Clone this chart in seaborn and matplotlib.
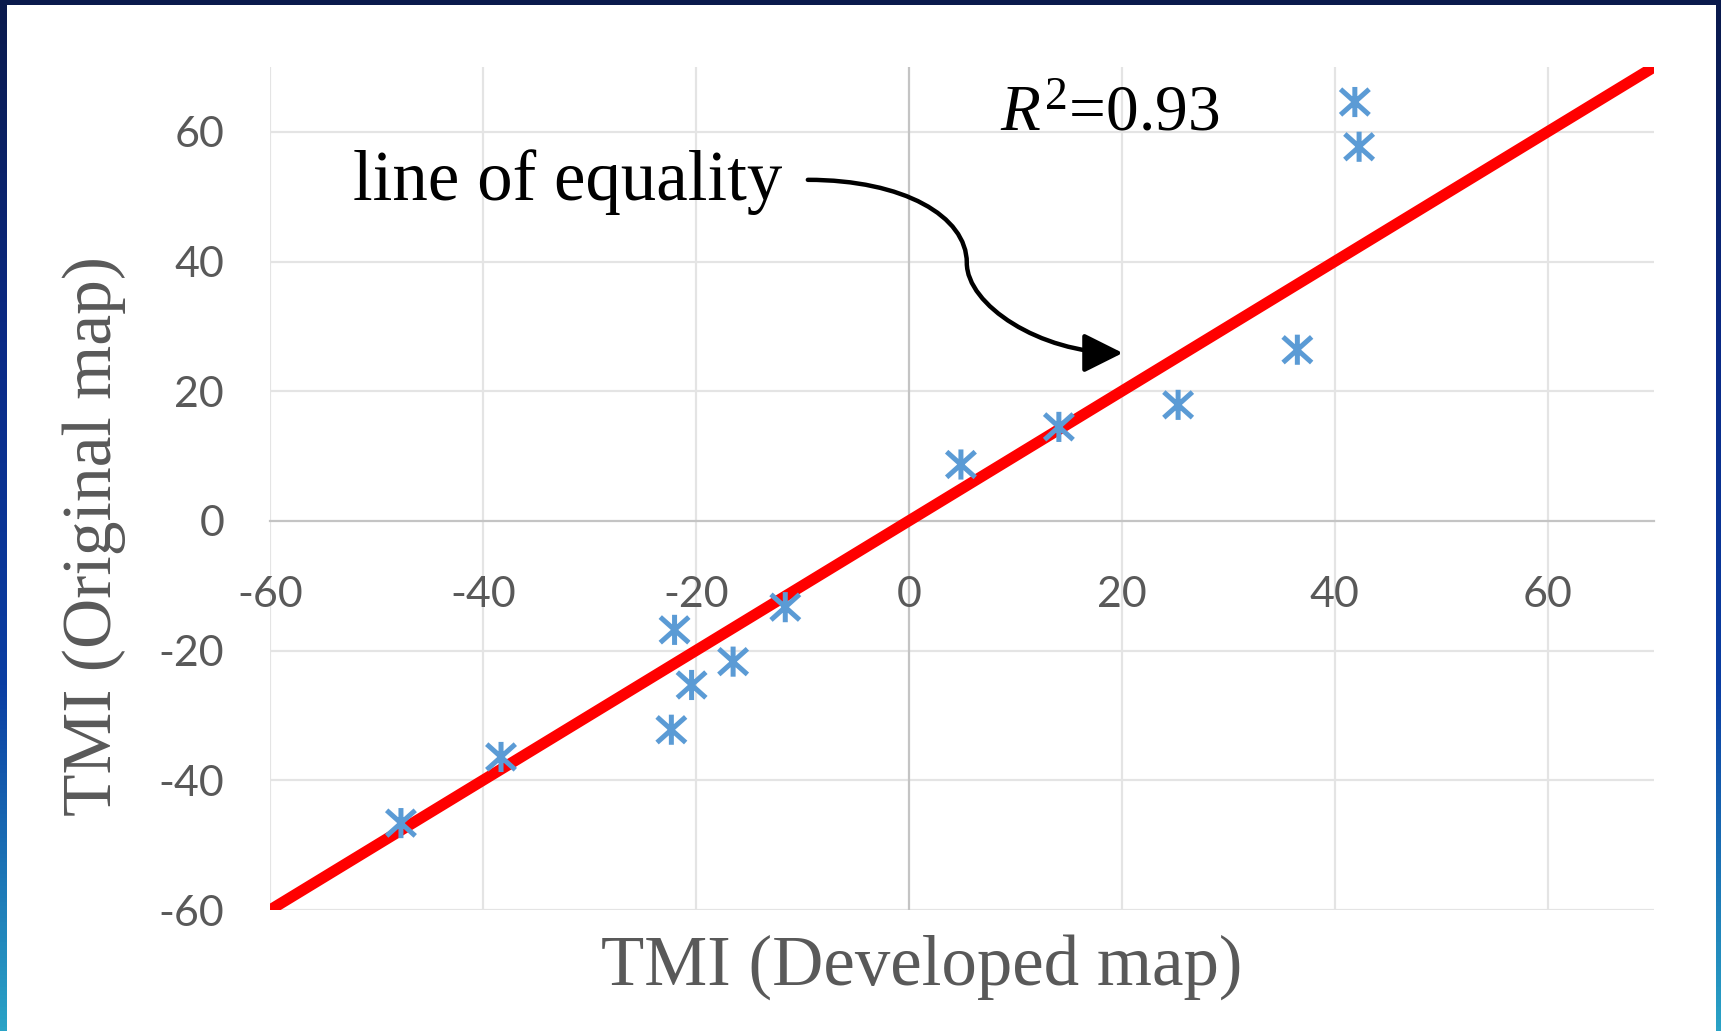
import numpy as np
import pandas as pd
import matplotlib
matplotlib.use("Agg")
import matplotlib.pyplot as plt
import seaborn as sns
from matplotlib.path import Path
from matplotlib.patches import FancyArrowPatch, Rectangle
from matplotlib.colors import LinearSegmentedColormap

# ---- data ----
developed = [-47.7, -38.3, -22.0, -22.3, -20.4, -16.5, -11.6, 4.9, 14.1, 25.3, 36.5, 41.9, 42.3]
original = [-46.6, -36.4, -16.8, -32.2, -25.3, -21.7, -13.3, 8.7, 14.5, 17.9, 26.4, 64.6, 57.7]
equality = [-60, 70]
ticks = [-60, -40, -20, 0, 20, 40, 60]
r2_text = r"$R^{2}$=0.93"
note_text = "line of equality"
xlabel = "TMI (Developed map)"
ylabel = "TMI (Original map)"

sns.set_theme(style="white")
plt.rcParams["font.family"] = ["Liberation Serif", "DejaVu Serif"]
plt.rcParams["mathtext.fontset"] = "custom"
plt.rcParams["mathtext.rm"] = "Liberation Serif"
plt.rcParams["mathtext.it"] = "Liberation Serif:italic"

W, H = 1721, 1031
fig = plt.figure(figsize=(W / 100, H / 100), dpi=100)
fig.patch.set_facecolor("white")

# slide frame background
bg = fig.add_axes([0, 0, 1, 1], zorder=-5)
cmap = LinearSegmentedColormap.from_list("frame", ["#0a1a4c", "#0a2a86", "#0b3ea3", "#2aa3c6"])
grad = np.linspace(0, 1, 256).reshape(-1, 1)
bg.imshow(grad, aspect="auto", cmap=cmap, extent=[0, 1, 0, 1], origin="upper")
bg.add_patch(Rectangle((7 / W, 0), (1716 - 7) / W, (H - 5) / H, transform=bg.transAxes,
                       facecolor="white", edgecolor="none"))
bg.set_xlim(0, 1); bg.set_ylim(0, 1)
bg.axis("off")

# main axes
left, right = 270, 1654
top, bottom = 67, 910
ax = fig.add_axes([left / W, (H - bottom) / H, (right - left) / W, (bottom - top) / H], zorder=2)
ax.set_facecolor("none")

grid_c = "#e4e4e4"
for t in ticks:
    if t != 0:
        ax.axhline(t, color=grid_c, lw=1.6, zorder=0)
        ax.axvline(t, color=grid_c, lw=1.6, zorder=0)
ax.axvline(0, color="#c4c4c4", lw=1.6, zorder=0.5)

# Excel-style asterisk marker: X plus vertical bar
star = Path([(0, -1), (0, 1), (-0.95, -0.85), (0.95, 0.85), (-0.95, 0.85), (0.95, -0.85)],
            [Path.MOVETO, Path.LINETO, Path.MOVETO, Path.LINETO, Path.MOVETO, Path.LINETO])

sns.lineplot(x=equality, y=equality, ax=ax, color="#ff0000", lw=8,
             solid_capstyle="round", zorder=3)
sns.scatterplot(x=developed, y=original, ax=ax, marker=star, s=470,
                facecolor="none", edgecolor="#5b9bd5", linewidth=3.6, zorder=4)

ax.set_xlim(-60, 70)
ax.set_ylim(-60, 70)
ax.set_xticks(ticks)
ax.set_yticks(ticks)
ax.set_xticklabels([str(t) for t in ticks])
ax.set_yticklabels([str(t) for t in ticks])
for s in ["top", "right", "left"]:
    ax.spines[s].set_visible(False)
ax.spines["bottom"].set_position(("data", 0))
ax.spines["bottom"].set_color("#c4c4c4")
ax.spines["bottom"].set_linewidth(1.6)
ax.tick_params(axis="x", length=0, pad=40, labelsize=31, labelcolor="#595959")
ax.tick_params(axis="y", length=0, pad=33, labelsize=31, labelcolor="#595959")
for lab in ax.get_xticklabels() + ax.get_yticklabels():
    lab.set_fontfamily(["Lato", "DejaVu Sans"])

ax.set_xlabel(xlabel, fontsize=51, color="#595959")
ax.set_ylabel(ylabel, fontsize=50, color="#595959")
ax.xaxis.set_label_coords((922 - left) / (right - left), (bottom - 985) / (bottom - top))
ax.xaxis.label.set_va("baseline")
ax.yaxis.set_label_coords((94 - left) / (right - left), (bottom - 536) / (bottom - top))
ax.yaxis.label.set_va("center")

ax.text(8.6, 60.3, r2_text, fontsize=47, color="black", ha="left", va="baseline")
ax.text(-52.2, 49.5, note_text, fontsize=51, color="black", ha="left", va="baseline")

verts = [(-9.48, 52.6), (-0.5, 52.6), (5.45, 47.0), (5.45, 39.8),
         (5.45, 33.3), (12.3, 25.9), (20.1, 25.9)]
codes = [Path.MOVETO, Path.CURVE4, Path.CURVE4, Path.CURVE4,
         Path.CURVE4, Path.CURVE4, Path.CURVE4]
arrow = FancyArrowPatch(path=Path(verts, codes),
                        arrowstyle="-|>,head_length=24,head_width=12",
                        color="black", lw=3.2, zorder=5)
ax.add_patch(arrow)

fig.savefig("out.png", dpi=100)
